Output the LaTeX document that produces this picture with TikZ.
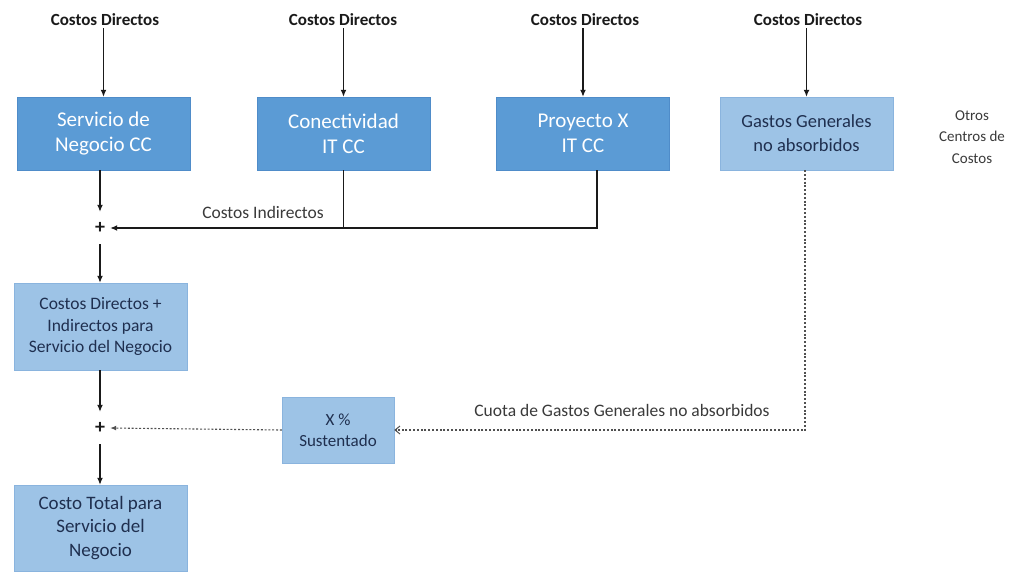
\documentclass[tikz,border=0pt]{standalone}
\usepackage{fontspec}
\setmainfont{Carlito}
\usetikzlibrary{arrows.meta,calc}
\definecolor{boxdark}{HTML}{5B9BD5}
\definecolor{boxlight}{HTML}{9DC3E6}
\definecolor{edgedark}{HTML}{4F8CC9}
\definecolor{edgelight}{HTML}{8AB4DE}
\definecolor{navytxt}{HTML}{1F2F4F}
\definecolor{linecol}{HTML}{1A1A1A}
\definecolor{dotcol}{HTML}{505050}
\definecolor{labtxt}{HTML}{3A3A3A}
\tikzset{
  darkbox/.style={draw=edgedark, fill=boxdark, text=white, align=center,
    minimum width=173pt, minimum height=73pt, inner sep=0pt,
    font=\fontsize{21}{25}\selectfont},
  lightbox/.style={draw=edgelight, fill=boxlight, text=navytxt, align=center,
    inner sep=0pt, font=\fontsize{17}{21}\selectfont},
  toplabel/.style={font=\fontsize{17}{19}\selectfont\bfseries, text=linecol, inner sep=2pt},
  sidelabel/.style={font=\fontsize{17.5}{20}\selectfont, text=labtxt, inner sep=0pt},
  plusnode/.style={font=\fontsize{20}{20}\selectfont\bfseries, text=linecol,
    minimum width=20pt, minimum height=32pt, inner sep=0pt},
  solidarrow/.style={draw=linecol, line width=1.3pt, -{Latex[length=7pt,width=6pt]}},
  solidline/.style={draw=linecol, line width=1.3pt},
  dotline/.style={draw=dotcol, line width=1.1pt, dash pattern=on 2pt off 1.8pt},
  dotarrow/.style={dotline, -{Latex[length=6pt,width=5pt]}},
  dotopen/.style={dotline, -{Straight Barb[length=5pt,width=8pt,line width=1pt]}}
}
\begin{document}
\begin{tikzpicture}[x=1pt,y=-1pt]
\useasboundingbox[fill=white] (0,0) rectangle (1022,571);

% top row of cost centres
\node[darkbox] (svc) at (103.5,133.5) {Servicio de\\Negocio CC};
\node[darkbox] (con) at (343.5,133.5) {Conectividad\\IT CC};
\node[darkbox] (prx) at (583,133.5) {Proyecto X\\IT CC};
\node[lightbox, minimum width=173pt, minimum height=73pt,
      font=\fontsize{18.5}{24}\selectfont] (gas) at (806.5,133.5) {Gastos Generales\\no absorbidos};
\node[sidelabel, align=center, font=\fontsize{15}{21.5}\selectfont] (otros) at (972,137) {Otros\\Centros de\\Costos};

% direct cost inputs
\node[toplabel] (d1) at (105,20) {Costos Directos};
\node[toplabel] (d2) at (343,20) {Costos Directos};
\node[toplabel] (d3) at (585,20) {Costos Directos};
\node[toplabel] (d4) at (808,20) {Costos Directos};
\draw[solidarrow] (d1.south -| svc.north) -- (svc.north);
\draw[solidarrow] (d2.south -| con.north) -- (con.north);
\draw[solidarrow] (d3.south -| prx.north) -- (prx.north);
\draw[solidarrow] (d4.south -| gas.north) -- (gas.north);

% first sum: direct + indirect
\node[plusnode] (plus1) at (100,228) {+};
\coordinate (prxout) at ($(prx.south)+(14,0)$);
\draw[solidarrow] (svc.south -| plus1) -- (plus1.north);
\draw[solidarrow] (prxout) |- (plus1.east);
\draw[solidline] (con.south) -- (con.south |- plus1.east);
\node[sidelabel] (ind) at (263,212) {Costos Indirectos};

\node[lightbox, minimum width=173pt, minimum height=87pt,
      font=\fontsize{17.5}{21.5}\selectfont] (sum1) at (100.5,326.5)
      {Costos Directos +\\Indirectos para\\Servicio del Negocio};
\draw[solidarrow] (plus1.south) -- (plus1.south |- sum1.north);

% share of unabsorbed overhead
\node[lightbox, minimum width=112pt, minimum height=66pt,
      font=\fontsize{17}{21}\selectfont] (pct) at (338,430) {X \%\\Sustentado};
\draw[dotopen] (gas.south -| 805,0) |- (pct.east);
\node[sidelabel] (cuota) at (622,410) {Cuota de Gastos Generales no absorbidos};

% second sum: total cost
\node[plusnode] (plus2) at (100,428) {+};
\draw[solidarrow] (sum1.south -| plus2) -- (plus2.north);
\draw[dotarrow] (pct.west) -- (plus2.east);

\node[lightbox, minimum width=173pt, minimum height=86pt,
      font=\fontsize{19}{23.5}\selectfont] (total) at (100.5,528)
      {Costo Total para\\Servicio del\\Negocio};
\draw[solidarrow] (plus2.south) -- (plus2.south |- total.north);
\end{tikzpicture}
\end{document}
